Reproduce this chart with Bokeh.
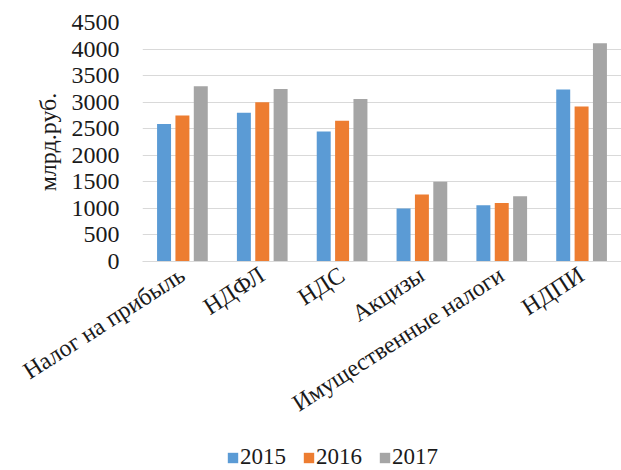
from bokeh.plotting import figure
from bokeh.models import ColumnDataSource, Legend, LegendItem, FactorRange, SingleIntervalTicker
from bokeh.layouts import column
from bokeh.transform import dodge
from bokeh.embed import file_html
from bokeh.resources import INLINE

categories = ["Налог на прибыль", "НДФЛ", "НДС", "Акцизы", "Имущественные налоги", "НДПИ"]
years = ["2015", "2016", "2017"]
v2015 = [2590, 2800, 2450, 1000, 1060, 3240]
v2016 = [2750, 3000, 2650, 1260, 1100, 2920]
v2017 = [3300, 3250, 3060, 1500, 1230, 4110]
colors = ["#5B9BD5", "#ED7D31", "#A5A5A5"]

src = ColumnDataSource(dict(cat=categories, y2015=v2015, y2016=v2016, y2017=v2017))

FONT = "Liberation Serif"
FS = "24px"
TXT = "#1a1a1a"

p = figure(x_range=FactorRange(*categories, range_padding=0), y_range=(0, 4500),
           width=621, height=440, output_backend="svg", toolbar_location=None,
           min_border_left=142, min_border_right=0, min_border_top=22, min_border_bottom=179)
p.outline_line_color = None

offsets = [-0.23, 0.0, 0.23]
for col, off, c in zip(["y2015", "y2016", "y2017"], offsets, colors):
    p.vbar(x=dodge("cat", off, range=p.x_range), top=col, width=0.175, source=src,
           fill_color=c, line_color=None)

p.yaxis.ticker = SingleIntervalTicker(interval=500)
p.yaxis.axis_line_color = None
p.yaxis.major_tick_line_color = None
p.yaxis.minor_tick_line_color = None
p.yaxis.major_label_text_font = FONT
p.yaxis.major_label_text_font_size = FS
p.yaxis.major_label_text_color = TXT
p.yaxis.major_label_standoff = 17
p.yaxis.axis_label = "млрд.руб."
p.yaxis.axis_label_text_font = FONT
p.yaxis.axis_label_text_font_size = FS
p.yaxis.axis_label_text_font_style = "normal"
p.yaxis.axis_label_text_color = TXT
p.yaxis.axis_label_standoff = 8

p.xaxis.axis_line_color = "#D9D9D9"
p.xaxis.major_tick_line_color = None
p.xaxis.minor_tick_line_color = None
p.xaxis.major_label_orientation = 0.57
p.xaxis.major_label_text_font = FONT
p.xaxis.major_label_text_font_size = FS
p.xaxis.major_label_text_color = TXT
p.xaxis.major_label_standoff = 5

p.xgrid.grid_line_color = None
p.ygrid.grid_line_color = "#D9D9D9"

# legend strip (frame aligned with the chart's frame by the column layout)
lg = figure(width=621, height=30, output_backend="svg", toolbar_location=None,
            x_axis_location=None, y_axis_location=None, min_border=0,
            x_range=(0, 1), y_range=(0, 1))
lg.outline_line_color = None
lg.grid.grid_line_color = None
keys = ColumnDataSource(dict(x=[0.5], top=[1]))
lrs = [lg.vbar(x="x", top="top", width=0.1, source=keys, fill_color=c, line_color=None,
               visible=False)
       for c in colors]
legend = Legend(items=[LegendItem(label=y, renderers=[r]) for y, r in zip(years, lrs)],
                orientation="horizontal", location=(84, 0),
                glyph_width=13, glyph_height=13, label_standoff=1, spacing=16,
                padding=0, margin=0, border_line_color=None, background_fill_alpha=0,
                inactive_fill_alpha=0,
                label_text_font=FONT, label_text_font_size="23px", label_text_color=TXT)
lg.add_layout(legend, "center")

open("out.html", "w").write(file_html(column(p, lg), INLINE))
